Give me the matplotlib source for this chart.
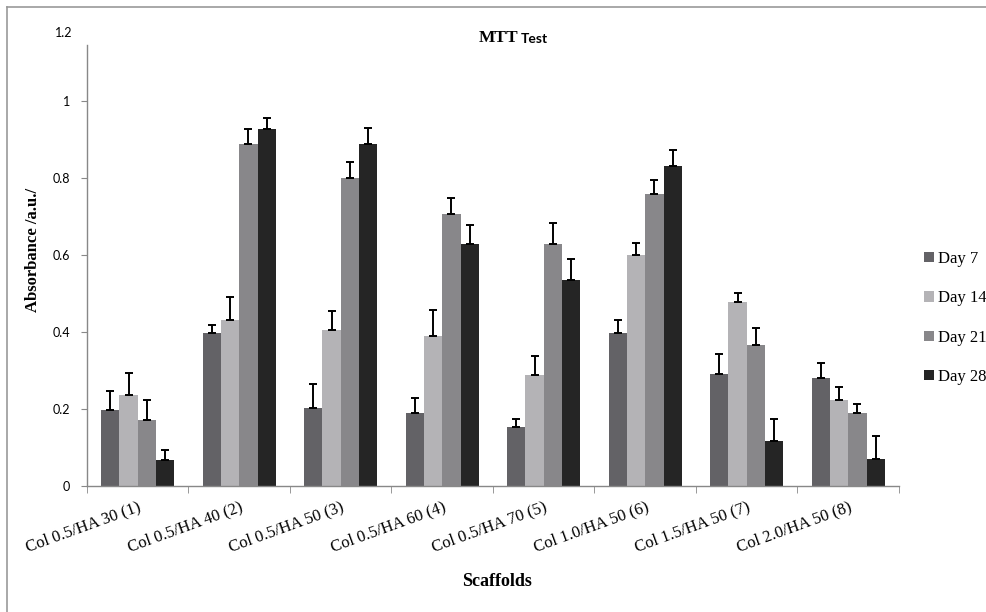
import matplotlib
matplotlib.use("Agg")
import matplotlib.pyplot as plt
from matplotlib.lines import Line2D
import numpy as np

# data
scaffolds = ["Col 0.5/HA 30 (1)", "Col 0.5/HA 40 (2)", "Col 0.5/HA 50 (3)",
             "Col 0.5/HA 60 (4)", "Col 0.5/HA 70 (5)", "Col 1.0/HA 50 (6)",
             "Col 1.5/HA 50 (7)", "Col 2.0/HA 50 (8)"]
days = ["Day 7", "Day 14", "Day 21", "Day 28"]

day7 = [0.197, 0.397, 0.203, 0.190, 0.153, 0.397, 0.292, 0.280]
day14 = [0.236, 0.431, 0.406, 0.390, 0.289, 0.600, 0.478, 0.224]
day21 = [0.172, 0.888, 0.800, 0.706, 0.629, 0.758, 0.366, 0.190]
day28 = [0.067, 0.926, 0.888, 0.629, 0.536, 0.832, 0.116, 0.070]

err7 = [0.051, 0.020, 0.061, 0.039, 0.020, 0.033, 0.052, 0.039]
err14 = [0.058, 0.061, 0.049, 0.068, 0.049, 0.030, 0.023, 0.034]
err21 = [0.051, 0.038, 0.041, 0.042, 0.054, 0.036, 0.045, 0.024]
err28 = [0.027, 0.029, 0.043, 0.048, 0.054, 0.042, 0.058, 0.061]

colors = ["#636266", "#b4b3b6", "#88878a", "#252525"]

serif = "Liberation Serif"
sans = "Lato"

fig = plt.figure(figsize=(9.87, 6.12), dpi=100)
ax = fig.add_axes([87 / 987, 1 - 486 / 612, (899 - 87) / 987, (486 - 45) / 612])

x = np.arange(len(scaffolds))
width = 0.181
series = [day7, day14, day21, day28]
errs = [err7, err14, err21, err28]
for i, (vals, e) in enumerate(zip(series, errs)):
    pos = x + (i - 1.5) * width
    ax.bar(pos, vals, width, color=colors[i], label=days[i], zorder=2)
    ax.errorbar(pos, vals, yerr=[np.zeros(len(e)), e], fmt="none",
                ecolor="black", elinewidth=1.4, capsize=3, capthick=1.4, zorder=3)

ax.set_xlim(-0.5, len(scaffolds) - 0.5)
ax.set_ylim(0, (486 - 45) / 385 * 0.2 * 5)
ax.set_yticks([0, 0.2, 0.4, 0.6, 0.8, 1.0])
ax.set_yticklabels(["0", "0.2", "0.4", "0.6", "0.8", "1"], fontfamily=sans, fontsize=9)

ax.set_xticks(x)
ax.set_xticklabels(scaffolds, rotation=20, ha="right", rotation_mode="anchor",
                   fontfamily=serif, fontsize=12)
ax.set_xticks(np.arange(len(scaffolds) + 1) - 0.5, minor=True)
ax.tick_params(axis="x", which="major", length=0, pad=9)
ax.tick_params(axis="x", which="minor", length=5, color="#888888")
ax.tick_params(axis="y", length=4, color="#888888", pad=8)

for s in ["top", "right"]:
    ax.spines[s].set_visible(False)
for s in ["left", "bottom"]:
    ax.spines[s].set_color("#888888")
    ax.spines[s].set_linewidth(1)

# top label of the axis, sitting above the spine
fig.text(72 / 987, 1 - 33 / 612, "1.2", ha="right", va="center", fontfamily=sans, fontsize=9)

# title: "MTT" serif, "Test" sans
fig.text(518 / 987, 1 - 38 / 612, "MTT", ha="right", va="center",
         fontfamily=serif, fontweight="bold", fontsize=12.5)
fig.text(521 / 987, 1 - 39 / 612, "Test", ha="left", va="center",
         fontfamily=sans, fontweight="bold", fontsize=10)

fig.text(497 / 987, 1 - 582 / 612, "Scaffolds", ha="center", va="center",
         fontfamily=serif, fontweight="bold", fontsize=13)
fig.text(33 / 987, 1 - 250 / 612, "Absorbance /a.u./", ha="center", va="center",
         rotation=90, fontfamily=serif, fontweight="bold", fontsize=12)

fig.legend(loc="upper left", bbox_to_anchor=(909 / 987, 1 - 236 / 612),
           frameon=False, prop={"family": serif, "size": 12},
           handlelength=0.6, handleheight=0.6, handletextpad=0.25, labelspacing=1.4)

# outer chart frame (only top and left edges are visible)
fig.add_artist(Line2D([7 / 987, 7 / 987], [0, 1 - 7 / 612], color="#999999", lw=1.2,
                      transform=fig.transFigure))
fig.add_artist(Line2D([7 / 987, 1], [1 - 7 / 612, 1 - 7 / 612], color="#999999", lw=1.2,
                      transform=fig.transFigure))

fig.savefig("out.png", dpi=100)
